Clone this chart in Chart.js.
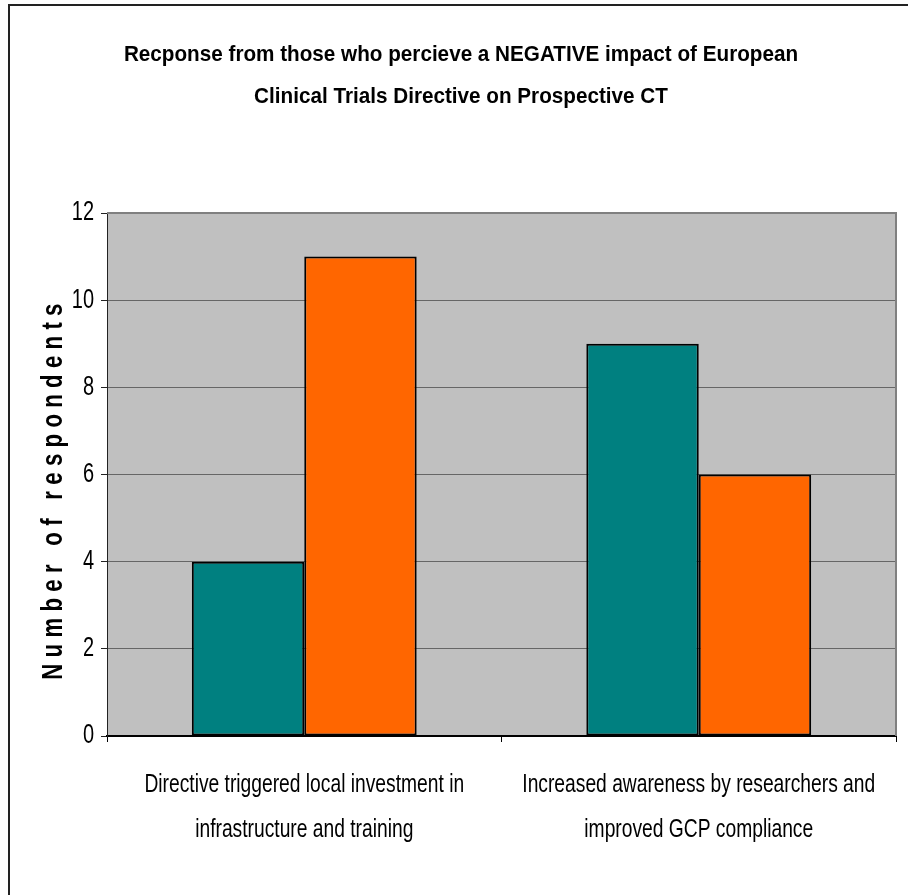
<!DOCTYPE html>
<html>
<head>
<meta charset="utf-8">
<script src="https://cdn.jsdelivr.net/npm/chart.js@4/dist/chart.umd.min.js"></script>
<style>
  html, body { margin: 0; padding: 0; background: #ffffff; }
  #wrap { position: relative; width: 908px; height: 895px; }
</style>
</head>
<body>
<div id="wrap"><canvas id="c" width="908" height="895"></canvas></div>
<script>
// Survey responses, two answer groups per statement
const categories = [
  ['Directive triggered local investment in', 'infrastructure and training'],
  ['Increased awareness by researchers and', 'improved GCP compliance']
];
const seriesNames = ['Yes', 'No'];
const tealValues = [4, 9];
const orangeValues = [11, 6];
const yTicks = [0, 2, 4, 6, 8, 10, 12];
const titleLines = [
  'Recponse from those who percieve a NEGATIVE impact of European',
  'Clinical Trials Directive on Prospective CT'
];
const yTitle = 'Number of respondents';

const FONT = "'Liberation Sans', Arial, sans-serif";

const canvas = document.getElementById('c');
const ctx2d = canvas.getContext('2d');

// Narrow lettering: squeeze every text run horizontally around its anchor
function squeezeFor(font) {
  if (/bold 22px/.test(font)) return 0.94;
  return 0.74;
}
const rawFill = ctx2d.fillText.bind(ctx2d);
ctx2d.fillText = function (text, x, y, maxWidth) {
  const k = squeezeFor(this.font);
  this.save();
  this.translate(x, y);
  this.scale(k, 1);
  if (maxWidth !== undefined) rawFill(text, 0, 0, maxWidth / k);
  else rawFill(text, 0, 0);
  this.restore();
};

// Grey plot area, outer frame and plot outline
const frame = {
  id: 'frame',
  beforeDraw(chart) {
    const { ctx, chartArea: a } = chart;
    ctx.save();
    ctx.fillStyle = '#C0C0C0';
    ctx.fillRect(a.left, a.top, a.right - a.left, a.bottom - a.top);
    ctx.strokeStyle = '#222';
    ctx.lineWidth = 2;
    ctx.beginPath();
    ctx.moveTo(9, 900);
    ctx.lineTo(9, 5);
    ctx.lineTo(910, 5);
    ctx.stroke();
    ctx.restore();
  },
  afterDraw(chart) {
    const { ctx, chartArea: a } = chart;
    ctx.save();
    ctx.strokeStyle = '#808080';
    ctx.lineWidth = 2;
    ctx.beginPath();
    ctx.moveTo(a.left, a.top);
    ctx.lineTo(a.right, a.top);
    ctx.lineTo(a.right, a.bottom);
    ctx.stroke();
    ctx.restore();
  },
  afterLayout(chart) {
    // spaced, slightly lowered lettering for the vertical axis title
    const s = chart.scales.y;
    if (s && !s._spacedTitle) {
      const orig = s.drawTitle;
      s.drawTitle = function () {
        const ctx = this.ctx;
        ctx.save();
        ctx.translate(0, 14);
        ctx.letterSpacing = '8.5px';
        orig.call(this);
        ctx.restore();
      };
      s._spacedTitle = true;
    }
  }
};

new Chart(canvas, {
  type: 'bar',
  data: {
    labels: categories,
    datasets: [
      { label: seriesNames[0], data: tealValues, backgroundColor: '#008080' },
      { label: seriesNames[1], data: orangeValues, backgroundColor: '#FF6600' }
    ]
  },
  options: {
    responsive: false,
    animation: false,
    devicePixelRatio: 1,
    layout: { padding: { left: 26, right: 12, top: 0, bottom: 0 } },
    datasets: {
      bar: {
        borderColor: '#000000',
        borderWidth: 2,
        borderSkipped: false,
        categoryPercentage: 0.57,
        barPercentage: 1.0
      }
    },
    plugins: {
      legend: { display: false },
      tooltip: { enabled: false },
      title: {
        display: true,
        text: titleLines,
        color: '#000000',
        font: { family: FONT, size: 22, weight: 'bold', lineHeight: '42px' },
        padding: { top: 34, bottom: 95 }
      }
    },
    scales: {
      x: {
        offset: true,
        grid: {
          offset: true,
          drawOnChartArea: false,
          drawTicks: true,
          tickLength: 6,
          tickColor: '#000000'
        },
        border: { color: '#000000', width: 2 },
        ticks: {
          color: '#000000',
          padding: 20,
          maxRotation: 0,
          autoSkip: false,
          font: { family: FONT, size: 26, lineHeight: '45px' }
        },
        afterFit(scale) {
          scale.height = 159;
          scale.paddingLeft = 0;
          scale.paddingRight = 0;
        }
      },
      y: {
        min: 0,
        max: 12,
        afterBuildTicks(scale) { scale.ticks = yTicks.map(v => ({ value: v })); },
        grid: {
          color: '#666666',
          lineWidth: 1,
          drawTicks: true,
          tickLength: 6,
          tickColor: '#222222'
        },
        border: { color: '#222222', width: 1 },
        ticks: {
          color: '#000000',
          padding: 7,
          font: { family: FONT, size: 27 }
        },
        title: {
          display: true,
          text: yTitle,
          color: '#000000',
          font: { family: FONT, size: 30, weight: 'bold', lineHeight: 1.2 },
          padding: { top: 10, bottom: 0 }
        },
        afterFit(scale) {
          scale.width = 81;
          scale.paddingTop = 0;
          scale.paddingBottom = 0;
        }
      }
    }
  },
  plugins: [frame]
});
</script>
</body>
</html>
